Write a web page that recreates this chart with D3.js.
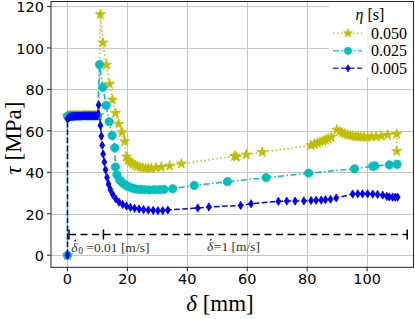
<!DOCTYPE html>
<html>
<head>
<meta charset="utf-8">
<script src="https://cdn.jsdelivr.net/npm/d3@7"></script>
<style>
  html, body { margin: 0; padding: 0; background: #fff; }
  svg { display: block; }
</style>
</head>
<body>
<div id="chart"></div>
<script>
// slip rate experiments, tau vs delta for three eta values
var eta050 = [[0,0],[0,67.2],[0.5,67.3],[1,67.4],[1.5,67.4],[2,67.4],[2.5,67.4],[3,67.4],[3.5,67.4],[4,67.4],[4.5,67.4],[5,67.4],[5.5,67.4],[6,67.4],[6.5,67.4],[7,67.4],[7.5,67.4],[8,67.4],[8.5,67.4],[9,67.4],[9.5,67.4],[10,67.4],[10.5,67.4],
  [11.0,116.2],[11.8,102.5],[13.0,91.8],[14.0,82.6],[15.0,75.0],[16.0,68.5],[17.1,63.3],[18.2,59.2],[19.1,54.9],[19.7,47.5],
  [20.3,45.8],[21.0,44.8],[21.8,44.0],[22.6,43.4],[23.4,42.9],[24.3,42.5],[25.2,42.2],[26.1,42.0],[27.0,42.0],[28.0,42.0],
  [29.5,42.2],[31.3,42.5],[34.1,43.1],[38.0,44.1],[55.8,47.8],[56.4,47.5],[59.7,48.5],[65.0,49.7],
  [81.3,53.0],[82.4,53.6],[83.4,54.1],[84.3,54.6],[85.2,55.1],[86.0,55.6],[87.0,56.2],[88.0,56.9],
  [89.9,60.5],[90.8,59.6],[91.7,59.0],[92.6,58.5],[93.5,58.1],[94.4,57.8],[95.3,57.5],[96.2,57.3],[97.1,57.2],[98.0,57.1],
  [99.0,57.1],[100.2,57.1],[101.5,57.2],[103.0,57.2],[104.7,57.5],[106.9,58.0],[109.9,58.4],[109.9,50.2]];

var eta025 = [[0,0],[0,67.1],[0.5,67.2],[1,67.3],[1.5,67.3],[2,67.3],[2.5,67.3],[3,67.3],[3.5,67.3],[4,67.3],[4.5,67.3],[5,67.3],[5.5,67.3],[6,67.3],[6.5,67.3],[7,67.3],[7.5,67.3],[8,67.3],[8.5,67.3],[9,67.3],[9.5,67.3],[10.0,67.3],
  [10.7,92.0],[11.8,81.0],[12.9,72.3],[13.9,64.4],[14.9,57.8],[15.8,51.8],[16.0,42.5],[16.5,38.8],[17.4,36.4],[18.3,35.0],
  [19.2,34.0],[20.0,33.3],[20.9,32.8],[21.9,32.3],[23.0,31.9],[24.3,31.7],[25.8,31.6],[27.3,31.5],[29.0,31.6],[30.7,31.6],
  [32.2,31.8],[35.1,32.1],[42.3,33.7],[53.4,35.5],[66.3,37.4],[80.5,39.6],[95.8,41.7],[101.9,42.9],[102.6,43.1],[107.4,43.6],[110.0,43.9]];

var eta005 = [[0,0],[0,65.8],[0.3,66.3],[0.6,66.6],[0.9,66.8],[1.2,66.9],[1.6,67.0],[2.0,67.0],[2.4,67.0],[2.8,67.1],[3.2,67.1],[3.6,67.1],[4.0,67.1],[4.4,67.1],[4.8,67.2],[5.2,67.2],[5.6,67.2],[6.0,67.2],[6.4,67.2],[6.8,67.2],[7.2,67.2],[7.6,67.2],[8.0,67.2],[8.4,67.2],[8.8,67.2],[9.2,67.2],[9.6,67.2],[10.0,67.2],
  [10.4,72.5],[11.0,62.6],[11.3,57.5],[11.6,53.0],[11.9,48.8],[12.3,45.0],[12.7,41.2],[13.2,37.5],[13.7,34.3],[14.3,31.7],
  [15.1,29.3],[16.1,27.2],[17.2,25.6],[18.4,24.5],[19.7,23.7],[21.0,23.1],[22.4,22.6],[23.9,22.3],[25.4,22.0],[27.0,21.8],
  [28.6,21.6],[30.2,21.5],[31.8,21.5],[33.5,21.8],[43.5,22.8],[47.2,23.3],[57.8,24.0],[61.3,24.8],[70.4,26.0],[73.2,26.1],
  [76.0,26.1],[78.9,26.2],[81.3,26.4],[83.0,26.5],[84.7,26.6],[86.1,26.8],[87.8,27.0],[89.7,27.6],[95.2,29.5],[96.9,29.6],
  [98.5,29.6],[100.2,29.6],[101.9,29.5],[103.5,29.3],[105.2,29.0],[106.6,28.4],[107.4,28.1],[108.5,28.0],[109.4,28.0],[110.2,28.0]];

var etaLabels = ["0.050", "0.025", "0.005"];
var xTicks = [0, 20, 40, 60, 80, 100];
var yTicks = [0, 20, 40, 60, 80, 100, 120];
// velocity bar: start, switch, end (mm) at tau = 10
var rateBarX = [0.5, 12, 113.4];
var rateBarY = 10;

var W = 415, H = 319;
var svg = d3.select("#chart").append("svg")
    .attr("width", W)
    .attr("height", H);

var x = d3.scaleLinear().domain([-5.5, 115.5]).range([51, 413.5]);
var y = d3.scaleLinear().domain([-5.83, 122.4]).range([267.3, 1.5]);

var serif = "'Liberation Serif', 'DejaVu Serif', serif";
var sans = "'DejaVu Sans', sans-serif";

// grid
var grid = svg.append("g").attr("stroke", "#b0b0b0").attr("stroke-width", 1).attr("opacity", 0.7);
grid.selectAll(".gx").data(xTicks).enter().append("line")
    .attr("x1", function(d) { return Math.round(x(d)) + 0.5; })
    .attr("x2", function(d) { return Math.round(x(d)) + 0.5; })
    .attr("y1", y.range()[0]).attr("y2", y.range()[1]);
grid.selectAll(".gy").data(yTicks).enter().append("line")
    .attr("y1", function(d) { return Math.round(y(d)) + 0.5; })
    .attr("y2", function(d) { return Math.round(y(d)) + 0.5; })
    .attr("x1", x.range()[0]).attr("x2", x.range()[1]);

// thin diamond like matplotlib "d"
var thinDiamond = {
  draw: function(ctx, size) {
    var h = Math.sqrt(size) * 0.75, w = h * 0.6;
    ctx.moveTo(0, -h); ctx.lineTo(w, 0); ctx.lineTo(0, h); ctx.lineTo(-w, 0); ctx.closePath();
  }
};

var series = [
  { data: eta050, color: "#bfbf00", dash: "1.5,2.5", symbol: d3.symbolStar, size: 32 },
  { data: eta025, color: "#00bfbf", dash: "6,2.5,1.5,2.5", symbol: d3.symbolCircle, size: 54 },
  { data: eta005, color: "#0000ff", dash: "5.5,2.5", symbol: thinDiamond, size: 30 }
];

var line = d3.line()
    .x(function(d) { return x(d[0]); })
    .y(function(d) { return y(d[1]); });

var plot = svg.append("g");
series.forEach(function(s) {
  plot.append("path")
      .attr("d", line(s.data))
      .attr("fill", "none")
      .attr("stroke", s.color)
      .attr("stroke-width", 1.5)
      .attr("stroke-dasharray", s.dash);
  plot.append("g").selectAll("path")
      .data(s.data)
      .enter()
      .append("path")
      .attr("transform", function(d) { return "translate(" + x(d[0]) + "," + y(d[1]) + ")"; })
      .attr("d", d3.symbol().type(s.symbol).size(s.size))
      .attr("fill", s.color)
      .attr("stroke", s.color)
      .attr("stroke-width", 0.8);
});

// velocity bar annotation
var bar = svg.append("g").attr("stroke", "#000").attr("stroke-width", 1.5);
bar.append("line")
    .attr("x1", x(rateBarX[0])).attr("x2", x(rateBarX[2]))
    .attr("y1", y(rateBarY)).attr("y2", y(rateBarY))
    .attr("stroke-dasharray", "7,4.5");
bar.selectAll(".tk").data(rateBarX).enter().append("line")
    .attr("x1", function(d) { return x(d); })
    .attr("x2", function(d) { return x(d); })
    .attr("y1", y(rateBarY) - 5).attr("y2", y(rateBarY) + 5);

// delta-dot label: dot placed over the delta by hand
function rateLabel(px, py, sub, rest) {
  var g = svg.append("g").attr("font-family", serif).attr("font-size", 13.5).attr("fill", "#333");
  var d = g.append("text").attr("x", px).attr("y", py).attr("font-style", "italic").text("δ");
  var w = d.node().getComputedTextLength();
  g.append("circle").attr("cx", px + w * 0.6).attr("cy", py - 11).attr("r", 0.9).attr("fill", "#333");
  var t = g.append("text").attr("x", px + w + 0.5).attr("y", py);
  if (sub) t.append("tspan").attr("font-size", 9.5).attr("dy", 2.5).text(sub);
  t.append("tspan").attr("dy", sub ? -2.5 : 0).text(rest);
}
rateLabel(x(1.3), y(1.7), "0", " =0.01 [m/s]");
rateLabel(x(46.6), y(2.2), "", " =1 [m/s]");

// legend
var lg = svg.append("g");
lg.append("rect")
    .attr("x", 329).attr("y", 2).attr("width", 84).attr("height", 75)
    .attr("fill", "#fff").attr("opacity", 0.85);
var lt = lg.append("text")
    .attr("x", 370).attr("y", 14)
    .attr("text-anchor", "middle").attr("dominant-baseline", "central")
    .attr("font-family", serif).attr("font-size", 16);
lt.append("tspan").attr("font-style", "italic").text("η");
lt.append("tspan").text(" [s]");

series.forEach(function(s, i) {
  var ry = 33.3 + i * 17.5;
  lg.append("line")
      .attr("x1", 333).attr("x2", 362).attr("y1", ry).attr("y2", ry)
      .attr("stroke", s.color).attr("stroke-width", 1.5)
      .attr("stroke-dasharray", s.dash).attr("opacity", 0.8);
  lg.append("path")
      .attr("transform", "translate(348," + ry + ")")
      .attr("d", d3.symbol().type(s.symbol).size(s.size * 0.75))
      .attr("fill", s.color).attr("stroke", s.color).attr("stroke-width", 0.8);
  lg.append("text")
      .attr("x", 371).attr("y", ry)
      .attr("dominant-baseline", "central")
      .attr("font-family", serif).attr("font-size", 16)
      .text(etaLabels[i]);
});

// axes frame
svg.append("rect")
    .attr("x", 51).attr("y", 1.5)
    .attr("width", 362.5).attr("height", 265.8)
    .attr("fill", "none").attr("stroke", "#222").attr("stroke-width", 1);

// ticks
var ax = svg.append("g");
ax.selectAll(".xt").data(xTicks).enter().append("line")
    .attr("x1", function(d) { return x(d); }).attr("x2", function(d) { return x(d); })
    .attr("y1", 267.3).attr("y2", 271.3).attr("stroke", "#222");
ax.selectAll(".xl").data(xTicks).enter().append("text")
    .attr("x", function(d) { return x(d); }).attr("y", 279)
    .attr("text-anchor", "middle").attr("dominant-baseline", "central")
    .attr("font-family", sans).attr("font-size", 14.5)
    .text(function(d) { return d; });
ax.selectAll(".yt").data(yTicks).enter().append("line")
    .attr("y1", function(d) { return y(d); }).attr("y2", function(d) { return y(d); })
    .attr("x1", 47).attr("x2", 51).attr("stroke", "#222");
ax.selectAll(".yl").data(yTicks).enter().append("text")
    .attr("x", 44).attr("y", function(d) { return y(d) + 1; })
    .attr("text-anchor", "end").attr("dominant-baseline", "central")
    .attr("font-family", sans).attr("font-size", 14.5)
    .text(function(d) { return d; });

// axis labels
var xl = svg.append("text")
    .attr("x", 220).attr("y", 311)
    .attr("text-anchor", "middle")
    .attr("font-family", serif).attr("font-size", 23);
xl.append("tspan").attr("font-style", "italic").text("δ");
xl.append("tspan").text(" [mm]");

var yl = svg.append("text")
    .attr("transform", "translate(21,138) rotate(-90)")
    .attr("text-anchor", "middle")
    .attr("font-family", serif).attr("font-size", 23);
yl.append("tspan").attr("font-style", "italic").text("τ");
yl.append("tspan").text(" [MPa]");
</script>
</body>
</html>
